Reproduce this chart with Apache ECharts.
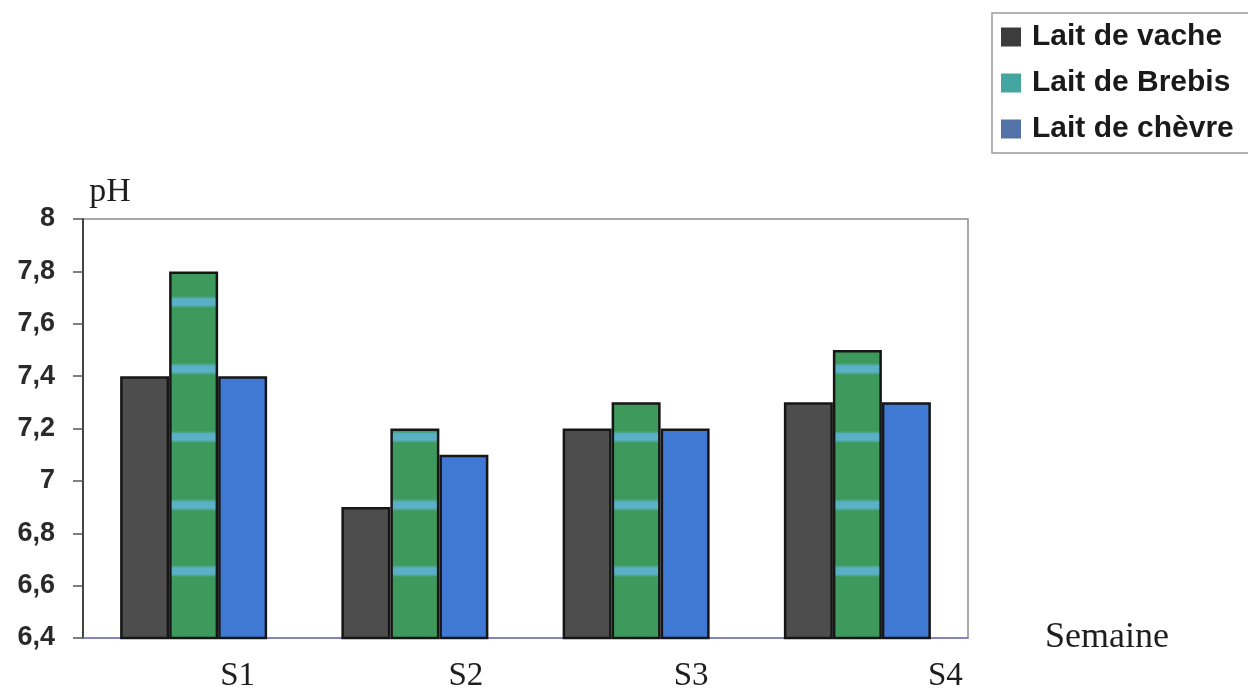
<!DOCTYPE html>
<html>
<head>
<meta charset="utf-8">
<script src="https://cdn.jsdelivr.net/npm/echarts@6/dist/echarts.min.js"></script>
<style>
  html, body { margin: 0; padding: 0; background: #ffffff; }
  #chart { width: 1248px; height: 700px; }
</style>
</head>
<body>
<div id="chart"></div>
<script>
// pH du lait par semaine
const semaines = ['S1', 'S2', 'S3', 'S4'];
const laitVache = [7.4, 6.9, 7.2, 7.3];
const laitBrebis = [7.8, 7.2, 7.3, 7.5];
const laitChevre = [7.4, 7.1, 7.2, 7.3];
const seriesNames = ['Lait de vache', 'Lait de Brebis', 'Lait de chèvre'];

// Axis range
const yMin = 6.4, yMax = 8, yStep = 0.2;

// Layout and style settings
const gridBox = { left: 83, top: 219, width: 885, height: 419 };
const labelShift = [44, 51, 55, 88];       // horizontal offset of each week label
const bandCenters = [302, 369, 437, 505, 571]; // light stripes in the green fill (page y)
const colVache = '#4d4d4d', colBrebis = '#3e9a5c', colBand = '#5ab0c4', colChevre = '#4079d4';

function stripedFill() {
  const y0 = gridBox.top, h = gridBox.height, half = 3;
  const stops = [{ offset: 0, color: colBrebis }];
  bandCenters.forEach(c => {
    const a = (c - half - 3 - y0) / h, b = (c - half - y0) / h;
    const d = (c + half - y0) / h, e = (c + half + 3 - y0) / h;
    stops.push({ offset: a, color: colBrebis });
    stops.push({ offset: b, color: colBand });
    stops.push({ offset: d, color: colBand });
    stops.push({ offset: e, color: colBrebis });
  });
  stops.push({ offset: 1, color: colBrebis });
  return { type: 'linear', x: 0, y: y0, x2: 0, y2: y0 + h, global: true, colorStops: stops };
}

const rich = {};
labelShift.forEach((s, i) => {
  rich['c' + i] = {
    fontFamily: 'Liberation Serif', fontSize: 33, color: '#1e1e1e',
    padding: [0, 0, 0, 2 * s]
  };
});

const barBorder = { borderColor: '#161616', borderWidth: 2.5 };

const chart = echarts.init(document.getElementById('chart'), null, { renderer: 'canvas' });
chart.setOption({
  animation: false,
  backgroundColor: '#ffffff',
  grid: Object.assign({ show: true, borderColor: '#8c8c8c', borderWidth: 1.5, backgroundColor: 'transparent' }, gridBox),
  legend: {
    orient: 'vertical',
    left: 992, top: 13,
    padding: [9, 60, 9, 9],
    itemGap: 16,
    icon: 'rect',
    itemWidth: 20, itemHeight: 19,
    borderColor: '#9a9a9a', borderWidth: 1.5,
    textStyle: { fontFamily: 'Liberation Sans', fontWeight: 'bold', fontSize: 30, color: '#1a1a1a', lineHeight: 30, padding: [0, 0, 0, 6] },
    data: [
      { name: seriesNames[0], itemStyle: { color: '#3c3c3c', borderWidth: 0 } },
      { name: seriesNames[1], itemStyle: { color: '#45a5a0', borderWidth: 0 } },
      { name: seriesNames[2], itemStyle: { color: '#5373a8', borderWidth: 0 } }
    ]
  },
  xAxis: {
    type: 'category',
    data: semaines,
    name: 'Semaine',
    nameLocation: 'end',
    nameGap: 77,
    nameTextStyle: { fontFamily: 'Liberation Serif', fontSize: 36, color: '#1e1e1e', padding: [0, 0, 12, 0] },
    axisLine: { lineStyle: { color: '#7a78cc', width: 1.5 } },
    axisTick: { show: false },
    axisLabel: {
      margin: 22,
      formatter: (v, i) => '{c' + i + '|' + v + '}',
      rich: rich
    }
  },
  yAxis: {
    type: 'value',
    min: yMin, max: yMax, interval: yStep,
    name: 'pH',
    nameLocation: 'end',
    nameGap: 10,
    nameTextStyle: { fontFamily: 'Liberation Serif', fontSize: 34, color: '#1e1e1e', padding: [0, 0, 0, 54] },
    axisLine: { show: true, lineStyle: { color: '#444444', width: 2 } },
    axisTick: { show: true, length: 10, lineStyle: { color: '#555555', width: 1.5 } },
    splitLine: { show: false },
    axisLabel: {
      margin: 28,
      fontFamily: 'Liberation Sans', fontWeight: 'bold', fontSize: 27, color: '#2a2a2a',
      formatter: v => String(Number(v.toFixed(1))).replace('.', ',')
    }
  },
  series: [
    { name: seriesNames[0], type: 'bar', data: laitVache, barWidth: 49, barGap: '0%',
      itemStyle: Object.assign({ color: colVache }, barBorder) },
    { name: seriesNames[1], type: 'bar', data: laitBrebis, barWidth: 49, barGap: '0%',
      itemStyle: Object.assign({ color: stripedFill() }, barBorder) },
    { name: seriesNames[2], type: 'bar', data: laitChevre, barWidth: 49, barGap: '0%',
      itemStyle: Object.assign({ color: colChevre }, barBorder) }
  ]
});
</script>
</body>
</html>
